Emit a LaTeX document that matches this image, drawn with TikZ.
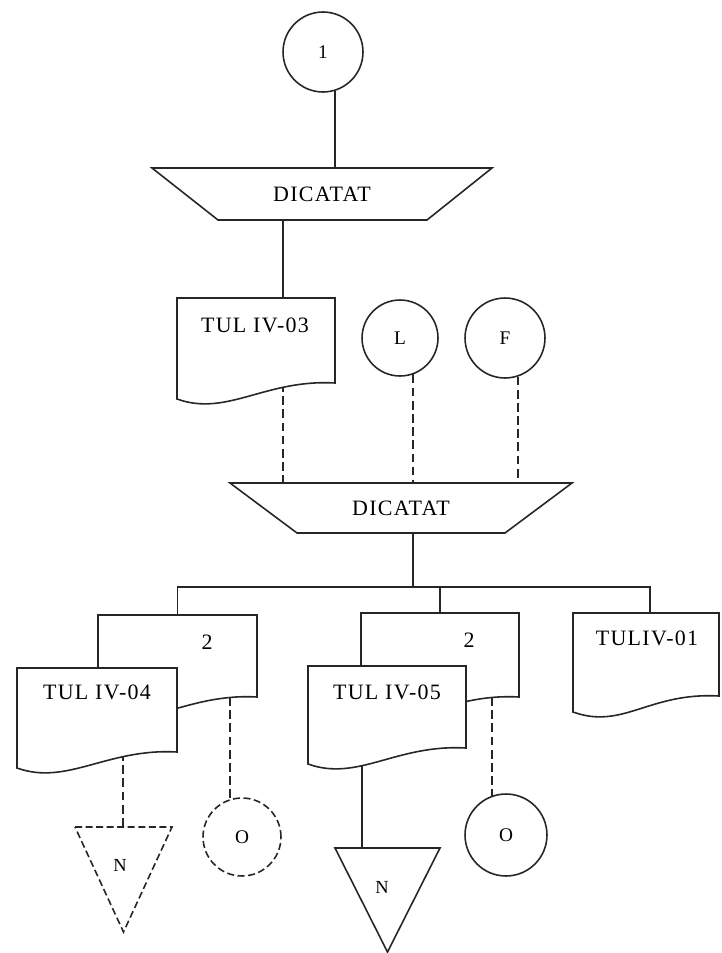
\documentclass[tikz,border=0pt]{standalone}
\usepackage{fontspec}
\setmainfont{Liberation Serif}
\newfontfamily\lblfont{Liberation Serif}[LetterSpace=6]
\usetikzlibrary{calc}
\pgfdeclarelayer{back}
\pgfdeclarelayer{bg}
\pgfsetlayers{back,bg,main}
\tikzset{
  x=0.02cm, y=-0.02cm,
  ln/.style={line width=0.9pt, draw=black!85},
  dsh/.style={ln, dash pattern=on 5pt off 2.5pt},
  box/.style 2 args={rectangle, inner sep=0pt, outer sep=0pt, minimum width=#1*0.02cm, minimum height=#2*0.02cm},
  circ/.style={circle, ln, fill=white, inner sep=0pt, minimum size=#1*0.04cm, font=\fontsize{11}{13}\selectfont},
  txt/.style={inner sep=0pt, font=\lblfont\fontsize{12.5}{14}\selectfont},
  small/.style={inner sep=0pt, font=\fontsize{10.5}{12}\selectfont}
}
\newcommand\docshape[2][]{%
  \path[ln, fill=white, #1] (#2.south east) -- (#2.north east) -- (#2.north west)
    -- ($(#2.south west)+(0,16)$)
    .. controls ($(#2.south west)+(50,34)$) and ($(#2.south east)+(-70,-4)$) .. (#2.south east) -- cycle;}
\newcommand\trapshape[3]{%
  \path[ln, fill=white] (#1.north west) -- (#1.north east) -- ($(#1.south east)+(-#3,0)$)
    -- ($(#1.south west)+(#2,0)$) -- cycle;}
\newcommand\trishape[2][]{%
  \path[ln, fill=white, #1] (#2.north west) -- (#2.north east) -- (#2.south) -- cycle;}
\begin{document}
\begin{tikzpicture}
\begin{pgfonlayer}{back}
  \path[use as bounding box, fill=white] (0,0) rectangle (721,953);
\end{pgfonlayer}

% circles
\node[circ=40] (c1) at (323,52) {1};
\node[circ=38] (cL) at (400,338) {L};
\node[circ=40] (cF) at (505,338) {F};

% trapezoids
\node[box={340}{52}] (d1) at (322,194) {};
\trapshape{d1}{66}{65}
\node[txt] (d1t) at (d1.center) {DICATAT};
\node[box={342}{50}] (d2) at (401,508) {};
\trapshape{d2}{67}{67}
\node[txt] (d2t) at (d2.center) {DICATAT};

% documents
\node[box={158}{85}] (doc3) at (256,340.5) {};
\docshape{doc3}
\node[txt] (doc3t) at (255,325) {TUL IV-03};

\node[box={159}{82}] (b4) at (177.5,656) {};
\docshape{b4}
\node[txt] (b4t) at (207,642) {2};
\node[box={160}{84}] (f4) at (97,710) {};
\docshape{f4}
\node[txt] (f4t) at (97,692) {TUL IV-04};

\node[box={158}{84}] (b5) at (440,655) {};
\docshape{b5}
\node[txt] (b5t) at (469,640) {2};
\node[box={158}{82}] (f5) at (387,707) {};
\docshape{f5}
\node[txt] (f5t) at (387,692) {TUL IV-05};

\node[box={146}{83}] (doc1) at (646,654.5) {};
\docshape{doc1}
\node[txt] (doc1t) at (647,638) {TULIV-01};

% terminals
\node[circ=39, dash pattern=on 4pt off 2pt] (o4) at (242,837) {O};
\node[circ=41] (o5) at (506,835) {O};
\node[box={97}{105}] (n4) at (123.5,879.5) {};
\trishape[dash pattern=on 4pt off 2pt]{n4}
\node[small] (n4t) at (120,865) {N};
\node[box={105}{104}] (n5) at (387.5,900) {};
\trishape{n5}
\node[small] (n5t) at (382,887) {N};

% connectors
\begin{pgfonlayer}{bg}
  \draw[ln] (c1.-73) -- (c1.-73 |- d1.north);
  \coordinate (p1) at ($(doc3.north)+(27,0)$);
  \draw[ln] (p1) -- (p1 |- d1.south);
  \coordinate (p2) at ($(doc3.south)+(27,0)$);
  \draw[dsh] (p2) -- (p2 |- d2.north);
  \draw[dsh] (cL.-70) -- (cL.-70 |- d2.north);
  \draw[dsh] (cF.-71) -- (cF.-71 |- d2.north);
  \coordinate (p3) at ($(d2.south)+(12,0)$);
  \coordinate (bus) at (413,587);
  \draw[ln] (p3) -- (p3 |- bus);
  \coordinate (p7) at ($(doc1.north)+(4,0)$);
  \draw[ln] (b4.north) -- (b4.north |- bus) -- (p7 |- bus) -- (p7);
  \draw[ln] (b5.north) -- (b5.north |- bus);
  \coordinate (p4) at ($(f4.south)+(26,0)$);
  \draw[dsh] (p4) -- (p4 |- n4.north);
  \coordinate (p5) at ($(b4.south)+(52.5,0)$);
  \draw[dsh] (p5) -- (p5 |- o4.center);
  \coordinate (p6) at ($(f5.south)+(-25,0)$);
  \draw[ln] (p6) -- (p6 |- n5.north);
  \coordinate (p8) at ($(b5.south)+(52,0)$);
  \draw[dsh] (p8) -- (p8 |- o5.center);
\end{pgfonlayer}
\end{tikzpicture}
\end{document}
